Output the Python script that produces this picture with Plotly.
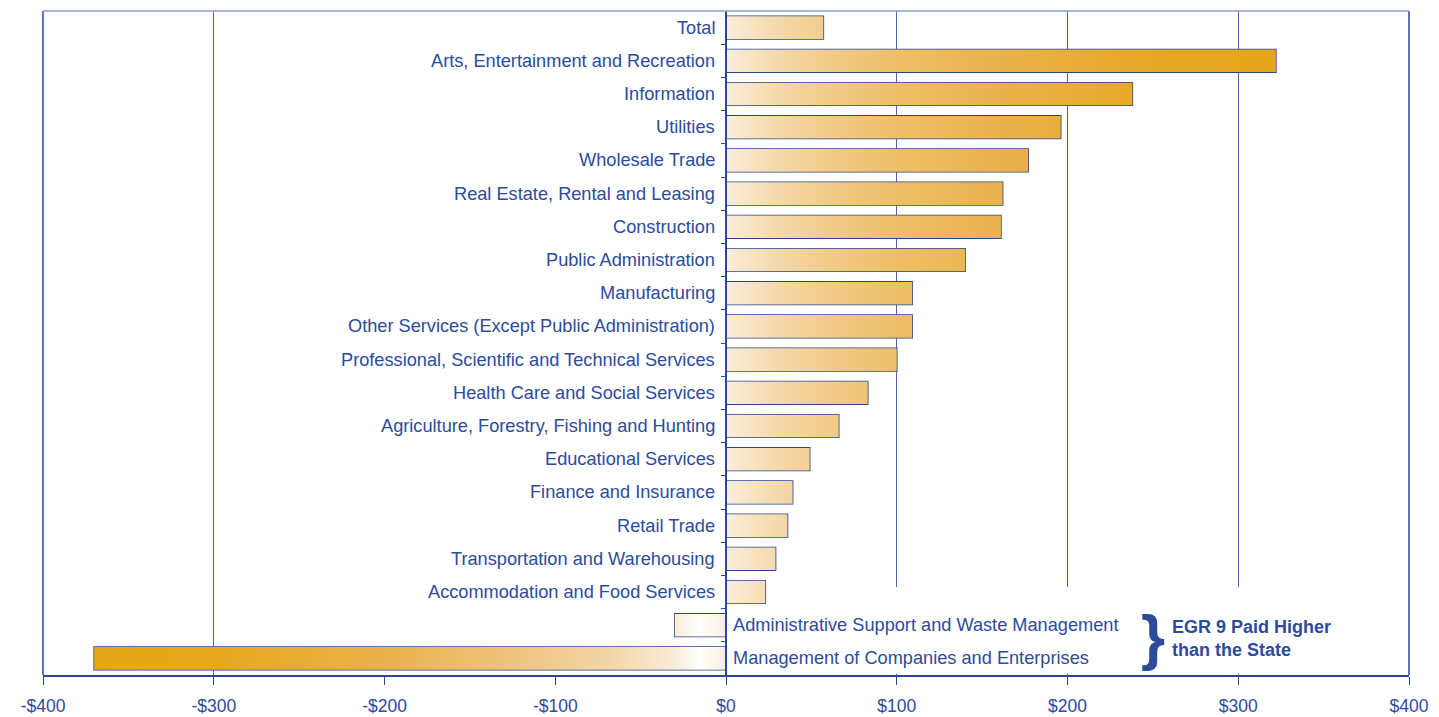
import plotly.graph_objects as go

categories = [
    "Total",
    "Arts, Entertainment and Recreation",
    "Information",
    "Utilities",
    "Wholesale Trade",
    "Real Estate, Rental and Leasing",
    "Construction",
    "Public Administration",
    "Manufacturing",
    "Other Services (Except Public Administration)",
    "Professional, Scientific and Technical Services",
    "Health Care and Social Services",
    "Agriculture, Forestry, Fishing and Hunting",
    "Educational Services",
    "Finance and Insurance",
    "Retail Trade",
    "Transportation and Warehousing",
    "Accommodation and Food Services",
    "Administrative Support and Waste Management",
    "Management of Companies and Enterprises",
]
values = [57, 322, 238, 196, 177, 162, 161, 140, 109, 109, 100, 83, 66, 49, 39, 36, 29, 23, -30, -370]

tick_vals = [-400, -300, -200, -100, 0, 100, 200, 300, 400]
tick_text = ["-$400", "-$300", "-$200", "-$100", "$0", "$100", "$200", "$300", "$400"]
grid_vals = [-300, 100, 200, 300]
note_text = "EGR 9 Paid Higher<br>than the State"

BLUE = "#2D4B9D"
AXIS = "#2A479A"
GRID = "#4D67B0"
BAR_W = 0.68

# gradient stops by absolute x position (data units)
g_lo, g_hi = -370.0, 330.0
grad_stops = [
    (-370, "#E6A617"), (-300, "#E7A81E"), (-200, "#EBB24A"), (-130, "#EFC37A"),
    (-70, "#F3D5A5"), (-30, "#FAEBD6"), (-15, "#FFFFFF"), (0, "#FBEEDC"),
    (25, "#F6DCB2"), (60, "#F2CB8A"), (100, "#EEBF68"), (150, "#EBB452"),
    (200, "#E9AD39"), (250, "#E7A826"), (330, "#E6A618"),
]
colorscale = [[(x - g_lo) / (g_hi - g_lo), c] for x, c in grad_stops]

fig = go.Figure()

idx = list(range(len(categories)))
for i, (cat, v) in enumerate(zip(categories, values)):
    h = BAR_W / 2
    fig.add_trace(go.Scatter(
        x=[0, v, v, 0, 0],
        y=[i - h, i - h, i + h, i + h, i - h],
        mode="lines", line=dict(width=0),
        fill="toself",
        fillgradient=dict(type="horizontal", colorscale=colorscale, start=g_lo, stop=g_hi),
        hoverinfo="skip", showlegend=False,
    ))

fig.add_trace(go.Bar(
    x=values, y=idx, orientation="h", width=BAR_W,
    marker=dict(color="rgba(0,0,0,0)", line=dict(color="#28448F", width=1.6)),
    customdata=categories, hovertemplate="%{customdata}: %{x}<extra></extra>",
    showlegend=False,
))

# dummy trace for the grid axis
fig.add_trace(go.Scatter(x=[None], y=[None], xaxis="x2", yaxis="y", showlegend=False, hoverinfo="skip"))

LABEL_FONT = dict(family="Liberation Sans, Arial", size=18.2, color=BLUE)
annotations = []
for i, (cat, v) in enumerate(zip(categories, values)):
    if v >= 0:
        annotations.append(dict(x=0, y=i, xref="x", yref="y", text=cat, showarrow=False,
                                xanchor="right", yanchor="middle", xshift=-9, font=LABEL_FONT))
    else:
        annotations.append(dict(x=0, y=i, xref="x", yref="y", text=cat, showarrow=False,
                                xanchor="left", yanchor="middle", xshift=5, font=LABEL_FONT))

annotations.append(dict(x=250, y=18.35, xref="x", yref="y", text="}", showarrow=False,
                        xanchor="center", yanchor="middle",
                        font=dict(family="Liberation Sans, Arial", size=62, color=BLUE, weight="bold")))
annotations.append(dict(x=260, y=18.4, xref="x", yref="y", text=note_text, showarrow=False,
                        xanchor="left", yanchor="middle", align="left",
                        font=dict(family="Liberation Sans, Arial", size=18, color=BLUE, weight="bold")))

shapes = [
    # white panel behind the right-hand labels of the negative bars
    dict(type="rect", xref="x", yref="y", x0=1.5, x1=396, y0=16.85, y1=19.46,
         fillcolor="white", line=dict(width=0), layer="between"),
    # plot frame
    dict(type="line", xref="paper", yref="paper", x0=0, x1=0, y0=0, y1=1,
         line=dict(color=AXIS, width=1.5), layer="above"),
    dict(type="line", xref="paper", yref="paper", x0=1, x1=1, y0=0, y1=1,
         line=dict(color=AXIS, width=1.5), layer="above"),
    dict(type="line", xref="paper", yref="paper", x0=0, x1=1, y0=1, y1=1,
         line=dict(color="#8C9CCF", width=1.5), layer="above"),
]

fig.update_layout(
    width=1423, height=709,
    margin=dict(l=35, r=22, t=3, b=42, autoexpand=False),
    paper_bgcolor="white", plot_bgcolor="white",
    showlegend=False, hovermode="closest",
    annotations=annotations, shapes=shapes,
    xaxis=dict(
        range=[-400, 400], domain=[0, 1], anchor="y", automargin=False,
        showgrid=False, zeroline=False,
        showline=True, linecolor=AXIS, linewidth=1.5,
        ticks="outside", ticklen=8, tickwidth=1.2, tickcolor=AXIS,
        tickvals=tick_vals, ticktext=tick_text, ticklabelstandoff=6,
        tickfont=dict(family="Liberation Sans, Arial", size=17.5, color=BLUE),
    ),
    xaxis2=dict(
        range=[-400, 400], overlaying="x", anchor="y", automargin=False,
        showgrid=True, gridcolor=GRID, gridwidth=1.3,
        tickvals=grid_vals, showticklabels=False, ticks="",
        zeroline=False, showline=False,
    ),
    yaxis=dict(
        range=[len(categories) - 0.5, -0.5],
        anchor="free", position=0.5, automargin=False,
        showgrid=False, zeroline=False,
        showline=True, linecolor=AXIS, linewidth=1.5,
        ticks="outside", ticklen=4, tickwidth=1.2, tickcolor=AXIS,
        tickvals=[k - 0.5 for k in range(1, len(categories))],
        showticklabels=False,
    ),
)

fig.write_html("out.html")
